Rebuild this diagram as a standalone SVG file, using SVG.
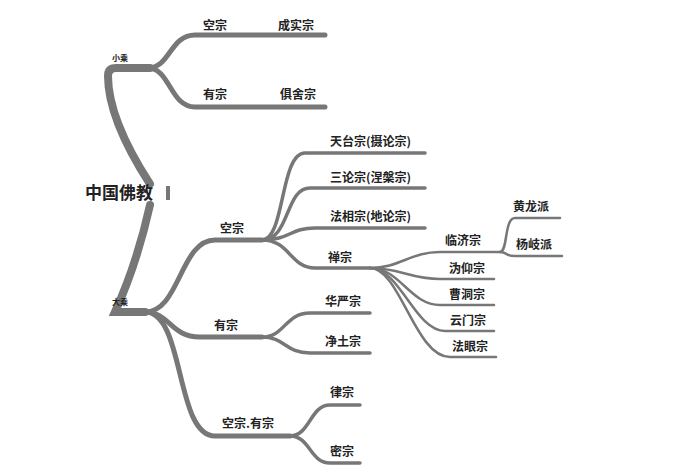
<svg xmlns="http://www.w3.org/2000/svg" width="700" height="470" viewBox="0 0 700 470">
<style>
.c{fill:none;stroke:#777;stroke-linecap:round}
.t1{stroke-width:8}.t2{stroke-width:5}.t3{stroke-width:3.5}.t4{stroke-width:2.5}
text{font-family:"Noto Sans CJK SC",sans-serif;font-weight:bold;fill:#222;font-size:12px}
</style>
<rect width="700" height="470" fill="#fff"/>
<g id="connectors">
<path class="c t1" d="M150,184 C128,150 108,110 108,76 Q108,68 116,68 L150,68"/>
<path class="c t1" d="M150,205 C140,250 125,290 115,312 L145,312"/>
<path class="c t2" d="M148,68 C170,68 170,35 195,35 L325,35"/>
<path class="c t2" d="M148,68 C170,68 170,107 195,107 L325,107"/>
<path class="c t2" d="M145,312 C180,312 180,240 215,240 L262,240"/>
<path class="c t2" d="M145,312 C170,312 170,337 200,337 L262,337"/>
<path class="c t2" d="M145,312 C185,312 175,436 215,436 L290,436"/>
<path class="c t3" d="M262,240 C285,240 280,153 305,153 L425,153"/>
<path class="c t3" d="M262,240 C290,240 285,188 310,188 L425,188"/>
<path class="c t3" d="M262,240 C290,240 290,228 315,228 L425,228"/>
<path class="c t3" d="M262,240 C290,240 290,268 315,268 L370,268"/>
<path class="c t3" d="M262,337 C285,337 285,313 310,313 L370,313"/>
<path class="c t3" d="M262,337 C285,337 285,353 310,353 L370,353"/>
<path class="c t3" d="M290,436 C310,436 310,405 330,405 L360,405"/>
<path class="c t3" d="M290,436 C310,436 310,463 330,463 L360,463"/>
<path class="c t4" d="M370,268 C400,268 410,252 440,252 L500,252"/>
<path class="c t4" d="M370,268 C400,268 410,279 440,279 L494,279"/>
<path class="c t4" d="M370,268 C400,268 410,305 440,305 L494,305"/>
<path class="c t4" d="M370,268 C400,268 415,331 445,331 L494,331"/>
<path class="c t4" d="M370,268 C400,268 415,357 450,357 L496,357"/>
<path class="c t4" d="M500,252 C508,252 504,218 515,218 L560,218"/>
<path class="c t4" d="M500,252 C508,252 504,256 515,256 L562,256"/>
</g>
<g id="root"><text x="85" y="199" style="font-size:17px">中国佛教</text><rect x="166" y="186" width="4" height="14" fill="#777"/></g>
<g id="xiaosheng"><text x="112" y="61" style="font-size:8px">小乘</text></g>
<g id="dasheng"><text x="112" y="305" style="font-size:8px">大乘</text></g>
<g id="kong1"><text x="203" y="30">空宗</text></g>
<g id="chengshi"><text x="278" y="30">成实宗</text></g>
<g id="you1"><text x="203" y="99">有宗</text></g>
<g id="jushe"><text x="280" y="99">俱舍宗</text></g>
<g id="kong2"><text x="220" y="233">空宗</text></g>
<g id="tiantai"><text x="330" y="146">天台宗(摄论宗)</text></g>
<g id="sanlun"><text x="330" y="182">三论宗(涅槃宗)</text></g>
<g id="faxiang"><text x="330" y="221">法相宗(地论宗)</text></g>
<g id="chan"><text x="328" y="262">禅宗</text></g>
<g id="linji"><text x="445" y="245">临济宗</text></g>
<g id="weiyang"><text x="449" y="273">沩仰宗</text></g>
<g id="caodong"><text x="449" y="299">曹洞宗</text></g>
<g id="yunmen"><text x="450" y="325">云门宗</text></g>
<g id="fayan"><text x="452" y="351">法眼宗</text></g>
<g id="huanglong"><text x="513" y="211">黄龙派</text></g>
<g id="yangqi"><text x="516" y="249">杨岐派</text></g>
<g id="you2"><text x="214" y="330">有宗</text></g>
<g id="huayan"><text x="325" y="306">华严宗</text></g>
<g id="jingtu"><text x="325" y="346">净土宗</text></g>
<g id="kongyou"><text x="222" y="428">空宗.有宗</text></g>
<g id="lv"><text x="330" y="397">律宗</text></g>
<g id="mi"><text x="330" y="456">密宗</text></g>
</svg>
